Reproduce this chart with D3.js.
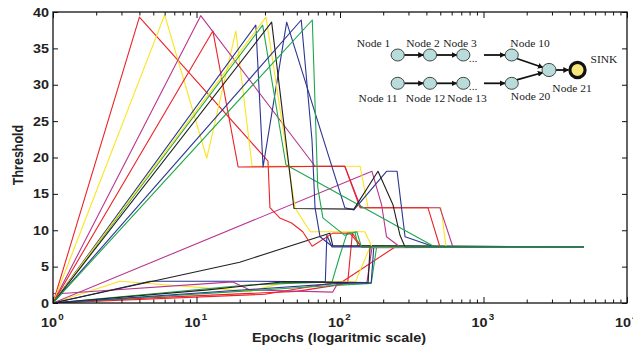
<!DOCTYPE html>
<html><head><meta charset="utf-8">
<script src="https://cdn.jsdelivr.net/npm/d3@7"></script>
<style>
  body { margin: 0; background: #fff; }
  svg { display: block; }
</style>
</head><body>
<svg id="chart" width="633" height="351"></svg>
<script>
// Threshold of each node over training epochs, as [epoch, threshold] points.
const redHigh1    = [[1,0],[4,39.3],[31.5,19.5],[32.5,13.1],[38,11.7],[46,11.0],[55,9.8],[64,7.8],[89,9.6],[117,9.6],[141,7.7],[5000,7.7]];
const yellowHigh1 = [[1,0],[6,39.6],[11.8,19.9],[18.8,37.4],[24.4,18.8],[138,18.8],[157,13.1],[506,13.1],[548,7.7],[5000,7.7]];
const magentaHigh = [[1,0],[10.7,39.5],[67,18.8],[108,18.8],[140,13.1],[497,13.1],[612,7.7],[5000,7.7]];
const redHigh2    = [[1,0],[13,37.4],[19.5,18.7],[108,18.8],[138,13.1],[410,13.1],[497,7.7],[5000,7.7]];
const blueHigh1   = [[1,0],[25.9,38.2],[29.1,18.7],[42.5,38.6],[108,13.1],[125,12.8],[211,18.1],[250,18.1],[284,9.1],[458,7.7],[5000,7.7]];
const greenHigh1  = [[1,0],[28.9,38.2],[42,19.0],[459,7.7],[5000,7.7]];
const yellowHigh2 = [[1,0],[30.5,39.3],[48.6,13.1],[62,9.8],[149,9.8],[167,7.7],[5000,7.7]];
const blackHigh   = [[1,0],[33.4,38.6],[47.8,13.0],[125,12.9],[184,18.1],[234,13.5],[262,9.3],[284,7.7],[5000,7.7]];
const blueHigh2   = [[1,0],[53.7,38.9],[63.8,22.4],[67,13.1],[72.6,9.1],[88,7.8],[5000,7.7]];
const greenHigh2  = [[1,0],[64.1,38.9],[70,15.9],[76,11.7],[108,9.3],[131,9.8],[141,7.7],[5000,7.7]];
const magentaMid  = [[1,0],[167,18.1],[195,13.5],[211,9.1],[262,7.7],[5000,7.7]];
const blackMid    = [[1,0],[20,5.6],[85,9.6],[89,7.9],[5000,7.7]];
const redLow1     = [[1,0],[30,1.2],[105,3.0],[242,7.7],[5000,7.7]];
const redLow2     = [[1,0],[4.7,0.7],[50,1.6],[113,2.7],[122,9.6],[141,7.7],[5000,7.7]];
const yellowLow   = [[1,0],[2.93,3.0],[23.6,1.6],[42.5,2.9],[128,2.9],[162,7.7],[5000,7.7]];
const blueLow1    = [[1,0],[4.74,3.0],[23.6,3.0],[79,2.9],[81,9.3],[88,7.7],[5000,7.7]];
const greenLow1   = [[1,0],[23.6,2.5],[88,2.9],[100,6.6],[112,9.6],[127,9.8],[133,7.9],[5000,7.7]];
const magentaLow  = [[1,1.3],[1.15,1.3],[17.9,2.9],[23.6,1.8],[89,1.5],[97,2.8],[154,2.8],[167,7.6],[5000,7.7]];
const greenLow2   = [[1,0],[20,1.6],[60,2.2],[165,2.7],[180,7.7],[5000,7.7]];
const blackLow    = [[1,0],[12,1.8],[40,2.9],[157,2.8],[162,7.7],[5000,7.7]];
const blueLow2    = [[1,0],[30,2.0],[100,2.7],[165,2.8],[172,7.7],[5000,7.7]];

const RED = "#ec2227", YELLOW = "#fbe41c", MAGENTA = "#b8358f", BLUE = "#2c3592", GREEN = "#1da74b", BLACK = "#231f20";

const seriesList = [redLow1, redLow2, yellowLow, blueLow1, greenLow1, magentaLow, greenLow2, blackLow, blueLow2,
                    blackMid, magentaMid,
                    redHigh1, yellowHigh1, magentaHigh, redHigh2, blueHigh1, greenHigh1, yellowHigh2, blackHigh, blueHigh2, greenHigh2];
const seriesColors = [RED, RED, YELLOW, BLUE, GREEN, MAGENTA, GREEN, BLACK, BLUE,
                      BLACK, MAGENTA,
                      RED, YELLOW, MAGENTA, RED, BLUE, GREEN, YELLOW, BLACK, BLUE, GREEN];

const yTicks = [0, 5, 10, 15, 20, 25, 30, 35, 40];
const xDecades = [0, 1, 2, 3, 4];
const xTitle = "Epochs (logaritmic scale)";
const yTitle = "Threshold";

// Network topology inset
const topRowLabels = ["Node 1", "Node 2", "Node 3", "Node 10"];
const bottomRowLabels = ["Node 11", "Node 12", "Node 13", "Node 20"];
const mergeLabel = "Node 21";
const sinkLabel = "SINK";

const svg = d3.select("#chart");
const L = 53, R = 627, T = 12, B = 303;
const x = d3.scaleLog().domain([1, 1e4]).range([L, R]);
const y = d3.scaleLinear().domain([0, 40]).range([B, T]);
const SX = 1.15; // horizontal text stretch

const plot = svg.append("g");
plot.append("defs").append("clipPath").attr("id", "clip")
  .append("rect").attr("x", L).attr("y", T).attr("width", R - L).attr("height", B - T);

const line = d3.line().x(d => x(d[0])).y(d => y(d[1]));
plot.append("g").attr("clip-path", "url(#clip)")
  .selectAll("path").data(seriesList).join("path")
  .attr("d", line)
  .attr("fill", "none")
  .attr("stroke", (d, i) => seriesColors[i])
  .attr("stroke-width", 1.1)
  .attr("stroke-linejoin", "round");

// axes with inward ticks
const minorX = x.ticks().filter(v => Math.abs(Math.log10(v) - Math.round(Math.log10(v))) > 1e-9);
const majorX = xDecades.map(e => Math.pow(10, e));
function tickGroup(axisFn, scale, values, size, transform) {
  const g = svg.append("g").attr("transform", transform)
    .call(axisFn(scale).tickValues(values).tickSize(size).tickFormat(""));
  g.select(".domain").remove();
  g.selectAll("line").attr("stroke", "#111").attr("stroke-width", 1);
  return g;
}
tickGroup(d3.axisBottom, x, majorX, -6, `translate(0,${B})`);
tickGroup(d3.axisBottom, x, minorX, -3.5, `translate(0,${B})`);
tickGroup(d3.axisTop, x, majorX, -6, `translate(0,${T})`);
tickGroup(d3.axisTop, x, minorX, -3.5, `translate(0,${T})`);
tickGroup(d3.axisLeft, y, yTicks, -5, `translate(${L},0)`);
tickGroup(d3.axisRight, y, yTicks, -5, `translate(${R},0)`);

svg.append("rect").attr("x", L).attr("y", T).attr("width", R - L).attr("height", B - T)
  .attr("fill", "none").attr("stroke", "#111").attr("stroke-width", 1.3);

const font = "'Liberation Sans', Arial, Helvetica, sans-serif";

// y tick labels
svg.append("g").selectAll("text").data(yTicks).join("text")
  .attr("transform", d => `translate(49,${y(d) + 4.5}) scale(${SX},1)`)
  .attr("text-anchor", "end")
  .attr("font-family", font).attr("font-weight", "bold").attr("font-size", 12.5)
  .attr("fill", "#222")
  .text(d => d);

// x tick labels as powers of ten
const xl = svg.append("g").selectAll("g").data(xDecades).join("g")
  .attr("transform", d => `translate(${x(Math.pow(10, d)) - 4},327) scale(${SX},1)`);
xl.append("text")
  .attr("text-anchor", "middle")
  .attr("font-family", font).attr("font-weight", "bold").attr("font-size", 12.5)
  .attr("fill", "#222").text("10");
xl.append("text")
  .attr("x", 8).attr("y", -7)
  .attr("font-family", font).attr("font-weight", "bold").attr("font-size", 8.5)
  .attr("fill", "#222").text(d => d);

// axis titles
svg.append("text")
  .attr("transform", `translate(339,342) scale(${SX},1)`)
  .attr("text-anchor", "middle")
  .attr("font-family", font).attr("font-weight", "bold").attr("font-size", 12.5)
  .attr("fill", "#222").text(xTitle);
svg.append("text")
  .attr("transform", `translate(23,155) rotate(-90) scale(1,${SX})`)
  .attr("text-anchor", "middle")
  .attr("font-family", font).attr("font-weight", "bold").attr("font-size", 12.5)
  .attr("fill", "#222").text(yTitle);

// ---- topology inset ----
const inset = svg.append("g");
const defs = svg.append("defs");
defs.append("marker").attr("id", "arrow")
  .attr("viewBox", "0 0 10 10").attr("refX", 9).attr("refY", 5)
  .attr("markerWidth", 3.2).attr("markerHeight", 3.2).attr("orient", "auto")
  .append("path").attr("d", "M0,0 L10,5 L0,10 Z").attr("fill", "#111");

const colX = [397.7, 430, 463.3, 511.7];
const rowY = [55, 83.3];
const mergeX = 549, mergeY = 70, sinkX = 577.5;
const nodeR = 6.6;
const serif = "'Liberation Serif', 'Times New Roman', serif";

function arrow(x1, y1, x2, y2) {
  inset.append("line").attr("x1", x1).attr("y1", y1).attr("x2", x2).attr("y2", y2)
    .attr("stroke", "#111").attr("stroke-width", 1.8).attr("marker-end", "url(#arrow)");
}
rowY.forEach(ry => {
  arrow(colX[0] + nodeR, ry, colX[1] - nodeR, ry);
  arrow(colX[1] + nodeR, ry, colX[2] - nodeR, ry);
  arrow(484, ry, colX[3] - nodeR, ry);
});
arrow(colX[3] + 5, rowY[0] + 3.5, mergeX - 6, mergeY - 2.5);
arrow(colX[3] + 5, rowY[1] - 3.5, mergeX - 6, mergeY + 2.5);
arrow(mergeX + nodeR, mergeY, sinkX - 9, mergeY);

rowY.forEach(ry => {
  inset.append("g").selectAll("ellipse").data(colX).join("ellipse")
    .attr("cx", d => d).attr("cy", ry).attr("rx", nodeR).attr("ry", 6)
    .attr("fill", "#b7dcd9").attr("stroke", "#333").attr("stroke-width", 0.9);
  inset.append("text").attr("transform", `translate(${(colX[2] + 473) / 2 + 5},${ry + 7}) scale(${SX},1)`)
    .attr("text-anchor", "middle").attr("font-family", serif).attr("font-size", 10)
    .attr("fill", "#222").text("...");
});
inset.append("ellipse").attr("cx", mergeX).attr("cy", mergeY).attr("rx", 7).attr("ry", 6.6)
  .attr("fill", "#b7dcd9").attr("stroke", "#333").attr("stroke-width", 0.9);
inset.append("ellipse").attr("cx", sinkX).attr("cy", mergeY).attr("rx", 7.6).attr("ry", 7.6)
  .attr("fill", "#f7e57e").attr("stroke", "#111").attr("stroke-width", 3.2);

function label(txt, cx, by) {
  inset.append("text").attr("transform", `translate(${cx},${by}) scale(${SX},1)`)
    .attr("text-anchor", "middle").attr("font-family", serif).attr("font-size", 10)
    .attr("fill", "#222").text(txt);
}
const topLabelX = [373.5, 423, 460, 530];
const botLabelX = [378, 425.5, 467, 530.5];
topRowLabels.forEach((t, i) => label(t, topLabelX[i], 47));
bottomRowLabels.forEach((t, i) => label(t, botLabelX[i], i === 3 ? 100 : 102));
label(mergeLabel, 572, 92);
label(sinkLabel, 604, 63);
</script>
</body></html>
